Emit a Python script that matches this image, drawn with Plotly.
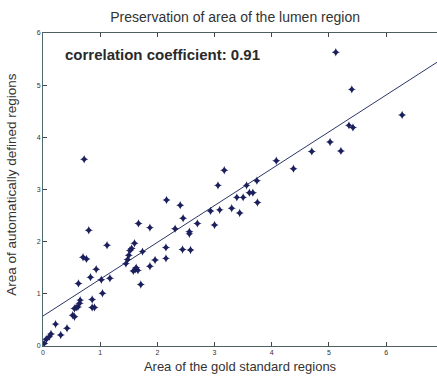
import plotly.graph_objects as go

# Areas of the gold standard regions (x) and automatically defined regions (y)
gold_area = [
    0.02, 0.06, 0.11, 0.14, 0.22, 0.31, 0.42, 0.52, 0.55, 0.55,
    0.58, 0.61, 0.64, 0.65, 0.62, 0.86, 0.86, 0.90, 1.04, 0.83,
    1.02, 1.17, 0.93, 0.70, 0.76, 0.80, 0.72, 1.12,
    1.45, 1.48, 1.50, 1.52, 1.55, 1.60, 1.74, 1.62, 1.58, 1.66,
    1.63, 1.71, 1.87, 1.96, 2.15, 2.15, 2.44, 2.58, 1.67, 1.87,
    2.31, 2.56, 2.56, 2.16, 2.40, 2.45, 2.70, 2.93, 3.00, 3.09,
    3.30, 3.44, 3.39, 3.50, 3.61, 3.67, 3.75, 3.06, 3.56, 3.74,
    3.17, 4.08, 4.38, 4.70, 5.02, 5.21, 5.35, 5.42, 6.28, 5.40,
    5.12,
]
auto_area = [
    0.05, 0.13, 0.18, 0.23, 0.42, 0.21, 0.34, 0.59, 0.56, 0.72,
    0.74, 0.75, 0.82, 0.88, 1.20, 0.89, 0.74, 0.74, 1.01, 1.32,
    1.27, 1.30, 1.47, 1.70, 1.67, 2.22, 3.58, 1.93,
    1.58, 1.66, 1.74, 1.83, 1.87, 1.97, 1.81, 1.47, 1.44, 1.45,
    1.50, 1.18, 1.53, 1.65, 1.68, 1.89, 1.85, 1.84, 2.35, 2.27,
    2.25, 2.19, 2.15, 2.80, 2.70, 2.45, 2.35, 2.59, 2.32, 2.61,
    2.64, 2.55, 2.85, 2.85, 2.94, 2.94, 2.75, 3.08, 3.08, 3.17,
    3.37, 3.55, 3.40, 3.73, 3.91, 3.74, 4.23, 4.19, 4.43, 4.92,
    5.63,
]

# Regression line coefficients
fit_intercept = 0.575
fit_slope = 0.706

corr_label = "correlation coefficient: 0.91"
x_ticks = [0, 1, 2, 3, 4, 5, 6]
y_ticks = [0, 1, 2, 3, 4, 5, 6]

x_max = 6.89
line_x = [0.0, x_max]
line_y = [fit_intercept + fit_slope * v for v in line_x]

fig = go.Figure()
fig.add_trace(go.Scatter(
    x=line_x, y=line_y, mode="lines",
    line=dict(color="#2b3566", width=1),
    hoverinfo="skip", showlegend=False,
))
fig.add_trace(go.Scatter(
    x=gold_area, y=auto_area, mode="markers",
    marker=dict(symbol="star-diamond", size=6, color="#1b1f5c",
                line=dict(width=0)),
    showlegend=False,
))

fig.add_annotation(
    x=0.051, y=0.93, xref="paper", yref="paper",
    xanchor="left", yanchor="middle", showarrow=False,
    text="<b>" + corr_label + "</b>",
    font=dict(family="Liberation Sans, Arial", size=15, color="#2a2a2a"),
)

axis_font = dict(family="Liberation Sans, Arial", size=7, color="#333333")
title_font = dict(family="Liberation Sans, Arial", size=13, color="#333333")

# Vertical axis title placed as a rotated annotation
fig.add_annotation(
    x=-0.079, y=0.515, xref="paper", yref="paper",
    xanchor="center", yanchor="middle", showarrow=False, textangle=-90,
    text="Area of automatically defined regions",
    font=dict(family="Liberation Sans, Arial", size=13.5, color="#333333"),
)

fig.update_layout(
    width=437, height=377,
    margin=dict(l=43, r=0, t=33, b=31),
    paper_bgcolor="white", plot_bgcolor="white",
    title=dict(text="Preservation of area of the lumen region",
               x=0.538, xanchor="center", y=0.955, yanchor="middle",
               font=dict(family="Liberation Sans, Arial", size=14,
                         color="#333333")),
    xaxis=dict(
        range=[0, x_max], tickvals=x_ticks, ticks="inside", ticklen=4,
        tickcolor="#444444", showline=True, linecolor="#4f5f60",
        linewidth=1, mirror="ticks", showgrid=False, zeroline=False,
        tickfont=axis_font,
        title=dict(text="Area of the gold standard regions",
                   font=title_font, standoff=6),
    ),
    yaxis=dict(
        range=[0, 6], tickvals=y_ticks, ticks="inside", ticklen=4,
        tickcolor="#444444", showline=True, linecolor="#4f6a68",
        linewidth=1, showgrid=False, zeroline=False,
        tickfont=axis_font,
    ),
)

fig.write_html("out.html")
